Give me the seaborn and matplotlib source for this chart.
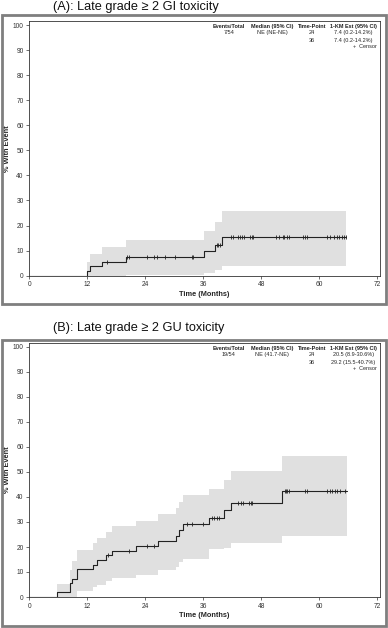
import numpy as np
import pandas as pd
import matplotlib
matplotlib.use('Agg')
import matplotlib.pyplot as plt
from matplotlib.patches import Rectangle
import seaborn as sns

# Panel A: late grade >= 2 GI toxicity (cumulative incidence, %)
times_a = [0, 12.0, 12.6, 15.0, 20.0, 36.1, 38.4, 39.9]
est_a   = [0, 1.9, 3.7, 5.6, 7.4, 9.9, 12.4, 15.5]
lower_a = [0, 0, 0, 0, 0.2, 1.0, 2.4, 4.0]
upper_a = [0, 5.6, 8.7, 11.6, 14.2, 18.0, 21.6, 25.8]
end_a   = 65.6
censor_a = [16.0, 20.3, 20.6, 24.3, 25.8, 26.5, 28.1, 30.2, 33.6, 33.8,
            38.8, 39.1, 39.5, 41.7, 42.2, 43.3, 43.6, 44.1, 44.5, 45.7, 46.1,
            46.4, 51.1, 51.6, 52.5, 52.8, 53.3, 53.8, 56.7, 57.1, 57.4, 61.7,
            62.3, 63.0, 63.6, 64.1, 64.7, 65.2, 65.6]

# Panel B: late grade >= 2 GU toxicity
times_b = [0, 5.8, 8.5, 8.8, 9.8, 13.1, 14.0, 15.9, 17.1, 22.1, 26.6, 30.3,
           30.9, 31.8, 37.3, 40.4, 41.8, 52.4]
est_b   = [0, 1.9, 5.6, 7.4, 11.1, 13.0, 14.8, 16.7, 18.5, 20.4, 22.3, 24.4,
           26.7, 29.2, 31.8, 34.7, 37.6, 42.3]
lower_b = [0, 0, 0, 0, 2.3, 4.0, 4.9, 6.3, 7.6, 8.9, 10.7, 12.0, 13.9, 15.3,
           19.0, 19.6, 21.6, 24.3]
upper_b = [0, 5.2, 10.9, 14.3, 18.9, 21.6, 23.6, 25.9, 28.3, 30.3, 33.0, 35.5,
           38.0, 40.7, 43.3, 46.9, 50.4, 56.3]
end_b   = 65.7
censor_b = [16.2, 20.7, 24.3, 25.9, 32.6, 33.6, 36.0, 37.8, 38.2, 38.8, 39.3,
            43.3, 43.8, 44.3, 45.5, 45.8, 46.2, 52.9, 53.1, 53.4, 53.8, 57.0,
            57.4, 61.7, 62.3, 62.7, 63.3, 63.8, 64.3, 65.4]

titles = ['(A): Late grade \u2265 2 GI toxicity', '(B): Late grade \u2265 2 GU toxicity']
table_rows = [
    ['7/54', 'NE (NE-NE)', '24', '7.4 (0.2-14.2%)', '36', '7.4 (0.2-14.2%)'],
    ['19/54', 'NE (41.7-NE)', '24', '20.5 (8.9-30.6%)', '36', '29.2 (15.5-40.7%)'],
]
headers = ['Events/Total', 'Median (95% CI)', 'Time-Point', '1-KM Est (95% CI)']
xticks = [0, 12, 24, 36, 48, 60, 72]
yticks = list(range(0, 101, 10))

sns.set_theme(style='white')
plt.rcParams['font.family'] = ['Liberation Sans', 'DejaVu Sans']

W, H = 388, 628
fig = plt.figure(figsize=(W / 100, H / 100), dpi=100)

panels = [
    (times_a, est_a, lower_a, upper_a, end_a, censor_a),
    (times_b, est_b, lower_b, upper_b, end_b, censor_b),
]
# axes boxes in pixels: left, top, right, bottom
ax_px = [(29.3, 21, 380, 275.7), (29.3, 343, 380, 597)]
frame_px = [(1.5, 15, 386, 304), (1.5, 340, 386, 626)]
title_y = [7, 328]

for i, (t, est, lo, up, end, cens) in enumerate(panels):
    l, tp, r, b = ax_px[i]
    ax = fig.add_axes([l / W, 1 - b / H, (r - l) / W, (b - tp) / H])

    tt = list(t) + [end]
    ee = list(est) + [est[-1]]
    ll = list(lo) + [lo[-1]]
    uu = list(up) + [up[-1]]
    # band only from first event onward
    k = 1
    ax.fill_between(tt[k:], ll[k:], uu[k:], step='post', color='#e0e0e0', lw=0)
    df = pd.DataFrame({'time': tt, 'est': ee})
    sns.lineplot(data=df, x='time', y='est', drawstyle='steps-post',
                 estimator=None, sort=False, color='#222222', lw=0.8, ax=ax)
    cy = [est[np.searchsorted(t, c, side='right') - 1] for c in cens]
    sns.scatterplot(x=cens, y=cy, marker='|', s=6, color='#222222',
                    linewidth=0.6, ax=ax)

    ax.set_xlim(0, 72.6)
    ax.set_ylim(0, 101.6)
    ax.set_xticks(xticks)
    ax.set_yticks(yticks)
    ax.tick_params(labelsize=4.8, length=2.5, width=0.5, pad=1.5,
                   colors='#333333', left=True, bottom=True)
    for s in ax.spines.values():
        s.set_color('#333333')
        s.set_linewidth(0.6)
    ax.set_xlabel('Time (Months)', fontsize=5.3, fontweight='bold', labelpad=2)
    ax.set_ylabel('% With Event', fontsize=5.3, fontweight='bold')
    ax.yaxis.set_label_coords(-0.052, 0.5)

    # summary table in upper right
    fs = 4.0
    xs = [0.569, 0.692, 0.806, 0.924]
    for x, h in zip(xs, headers):
        ax.text(x, 0.98, h, transform=ax.transAxes, ha='center', va='center',
                fontsize=fs, fontweight='bold', color='#222222')
    row = table_rows[i]
    ax.text(xs[0], 0.953, row[0], transform=ax.transAxes, ha='center', va='center', fontsize=fs)
    ax.text(xs[1], 0.953, row[1], transform=ax.transAxes, ha='center', va='center', fontsize=fs)
    ax.text(xs[2], 0.953, row[2], transform=ax.transAxes, ha='center', va='center', fontsize=fs)
    ax.text(xs[3], 0.953, row[3], transform=ax.transAxes, ha='center', va='center', fontsize=fs)
    ax.text(xs[2], 0.925, row[4], transform=ax.transAxes, ha='center', va='center', fontsize=fs)
    ax.text(xs[3], 0.925, row[5], transform=ax.transAxes, ha='center', va='center', fontsize=fs)
    ax.text(0.99, 0.898, '+  Censor', transform=ax.transAxes, ha='right', va='center', fontsize=fs)

    fx0, fy0, fx1, fy1 = frame_px[i]
    fig.add_artist(Rectangle((fx0 / W, 1 - fy1 / H), (fx1 - fx0) / W, (fy1 - fy0) / H,
                             transform=fig.transFigure, fill=False,
                             ec='#7f7f7f', lw=2.0))
    fig.text(53 / W, 1 - title_y[i] / H, titles[i], ha='left', va='center',
             fontsize=9.2, color='#111111')

fig.savefig('out.png', dpi=100)
